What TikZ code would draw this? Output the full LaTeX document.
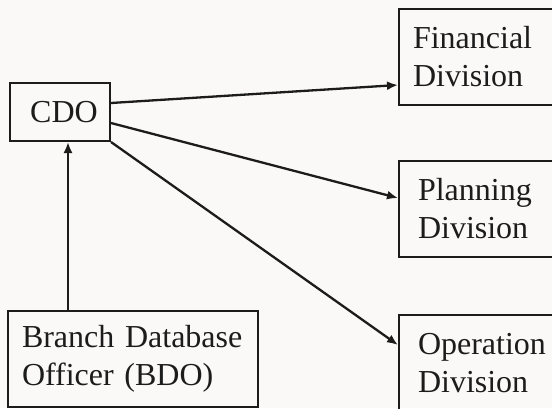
\documentclass[tikz,border=0pt]{standalone}
\usepackage{fontspec}
\setmainfont{Liberation Serif}
\usetikzlibrary{arrows.meta}
\definecolor{paper}{RGB}{251,249,248}
\definecolor{ink}{RGB}{28,28,28}
\tikzset{
  box/.style={draw=ink, line width=2pt, rectangle, text=ink,
    font=\fontsize{32}{38}\selectfont, inner ysep=0pt},
  sidebox/.style={box, minimum width=170pt, minimum height=96pt, align=left},
  link/.style={draw=ink, line width=2.3pt,
    -{Latex[length=11pt,width=9pt]}},
}
\begin{document}
\begin{tikzpicture}[x=1pt, y=-1pt]
  \fill[paper] (0,0) rectangle (552,408);
  \useasboundingbox (0,0) rectangle (552,408);
  \clip (0,0) rectangle (552,408);

  % boxes
  \node[box, minimum width=100pt, minimum height=58pt, inner xsep=0pt] (cdo) at (60,112)
    {\hspace*{8pt}CDO};
  \node[sidebox, inner xsep=14pt, text width=142pt] (fin) at (484,57) {Financial\\Division};
  \node[sidebox, inner xsep=19pt, text width=132pt] (plan) at (484,209) {Planning\\Division};
  \node[sidebox, inner xsep=19pt, text width=132pt] (op) at (484,363) {Operation\\Division};
  \node[box, minimum width=250pt, minimum height=96pt, inner xsep=14pt,
        text width=222pt, align=left] (bdo) at (133,359) {Branch Database\\Officer (BDO)};

  % connectors
  \coordinate (up) at (68,0);
  \draw[link] (bdo.north -| up) -- (cdo.south -| up);
  \draw[link] ([yshift=9pt]cdo.east) -- ([yshift=-28pt]fin.west);
  \draw[link] ([yshift=-11pt]cdo.east) -- ([yshift=11pt]plan.west);
  \draw[link] (cdo.south east) -- ([yshift=18pt]op.west);
\end{tikzpicture}
\end{document}
